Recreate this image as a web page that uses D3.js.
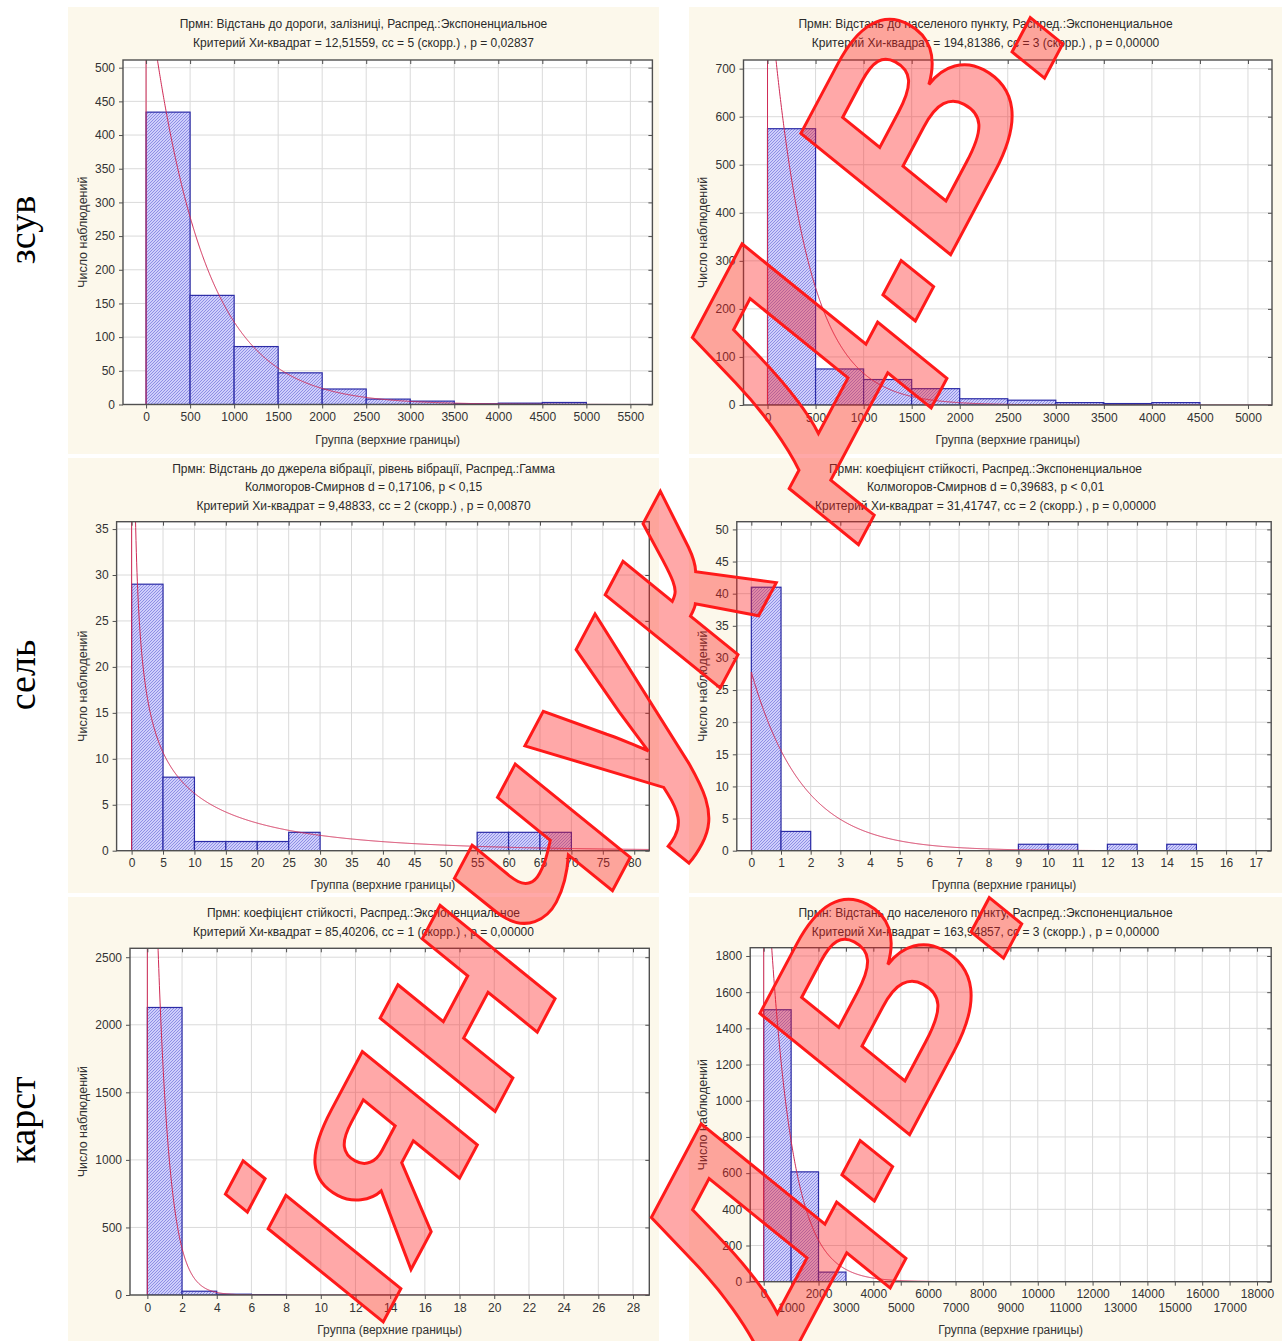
<!DOCTYPE html>
<html>
<head>
<meta charset="utf-8">
<script src="https://cdn.jsdelivr.net/npm/d3@7"></script>
<style>
  body { margin: 0; background: #fff; }
  text { font-family: "Liberation Sans", Arial, sans-serif; }
</style>
</head>
<body>
<svg id="mainsvg" width="1282" height="1341"></svg>
<script>
// ---------- data ----------
// зсув: відстань до дороги
const zsuvRoadEdges = [0, 500, 1000, 1500, 2000, 2500, 3000, 3500, 4000, 4500, 5000]
const zsuvRoadCounts = [434, 162, 86, 47, 23, 8, 5, 1, 2, 3]
const zsuvRoadFit = [632, 0.00164]          // amplitude, rate
const zsuvRoadXTicks = [0, 500, 1000, 1500, 2000, 2500, 3000, 3500, 4000, 4500, 5000, 5500]
const zsuvRoadYTicks = [0, 50, 100, 150, 200, 250, 300, 350, 400, 450, 500]
const zsuvRoadTitle = ['Прмн: Відстань до дороги, залізниці, Распред.:Экспоненциальное',
  'Критерий Хи-квадрат = 12,51559, сс = 5 (скорр.) , p = 0,02837']

// зсув: відстань до населеного пункту
const zsuvTownEdges = [0, 500, 1000, 1500, 2000, 2500, 3000, 3500, 4000, 4500]
const zsuvTownCounts = [575, 75, 53, 34, 13, 10, 5, 3, 5]
const zsuvTownFit = [905, 0.00262]
const zsuvTownXTicks = [0, 500, 1000, 1500, 2000, 2500, 3000, 3500, 4000, 4500, 5000]
const zsuvTownYTicks = [0, 100, 200, 300, 400, 500, 600, 700]
const zsuvTownTitle = ['Прмн: Відстань до населеного пункту, Распред.:Экспоненциальное',
  'Критерий Хи-квадрат = 194,81386, сс = 3 (скорр.) , p = 0,00000']

// сель: відстань до джерела вібрації
const selVibEdges = [0, 5, 10, 15, 20, 25, 30, 35, 40, 45, 50, 55, 60, 65, 70]
const selVibCounts = [29, 8, 1, 1, 1, 2, 0, 0, 0, 0, 0, 2, 2, 2]
const selVibFit = [29, 0.5, 26]             // amplitude, shape, scale
const selVibXTicks = [0, 5, 10, 15, 20, 25, 30, 35, 40, 45, 50, 55, 60, 65, 70, 75, 80]
const selVibYTicks = [0, 5, 10, 15, 20, 25, 30, 35]
const selVibTitle = ['Прмн: Відстань до джерела вібрації, рівень вібрації, Распред.:Гамма',
  'Колмогоров-Смирнов d = 0,17106, p < 0,15',
  'Критерий Хи-квадрат = 9,48833, сс = 2 (скорр.) , p = 0,00870']

// сель: коефіцієнт стійкості
const selCoefEdges = [0, 1, 2, 3, 4, 5, 6, 7, 8, 9, 10, 11, 12, 13, 14, 15]
const selCoefCounts = [41, 3, 0, 0, 0, 0, 0, 0, 0, 1, 1, 0, 1, 0, 1]
const selCoefFit = [27.8, 0.58]
const selCoefXTicks = [0, 1, 2, 3, 4, 5, 6, 7, 8, 9, 10, 11, 12, 13, 14, 15, 16, 17]
const selCoefYTicks = [0, 5, 10, 15, 20, 25, 30, 35, 40, 45, 50]
const selCoefTitle = ['Прмн: коефіцієнт стійкості, Распред.:Экспоненциальное',
  'Колмогоров-Смирнов d = 0,39683, p < 0,01',
  'Критерий Хи-квадрат = 31,41747, сс = 2 (скорр.) , p = 0,00000']

// карст: коефіцієнт стійкості
const karstCoefEdges = [0, 2, 4, 6, 8]
const karstCoefCounts = [2128, 28, 6, 3]
const karstCoefFit = [6280, 1.45]
const karstCoefXTicks = [0, 2, 4, 6, 8, 10, 12, 14, 16, 18, 20, 22, 24, 26, 28]
const karstCoefYTicks = [0, 500, 1000, 1500, 2000, 2500]
const karstCoefTitle = ['Прмн: коефіцієнт стійкості, Распред.:Экспоненциальное',
  'Критерий Хи-квадрат = 85,40206, сс = 1 (скорр.) , p = 0,00000']

// карст: відстань до населеного пункту
const karstTownEdges = [0, 1000, 2000, 3000]
const karstTownCounts = [1503, 607, 53]
const karstTownFit = [2635, 0.00122]
const karstTownXTicks = [0, 1000, 2000, 3000, 4000, 5000, 6000, 7000, 8000, 9000, 10000,
  11000, 12000, 13000, 14000, 15000, 16000, 17000, 18000]
const karstTownYTicks = [0, 200, 400, 600, 800, 1000, 1200, 1400, 1600, 1800]
const karstTownTitle = ['Прмн: Відстань до населеного пункту, Распред.:Экспоненциальное',
  'Критерий Хи-квадрат = 163,94857, сс = 3 (скорр.) , p = 0,00000']

const rowLabels = ['зсув', 'сель', 'карст']
const yAxisLabel = 'Число наблюдений'
const xAxisLabel = 'Группа (верхние границы)'
const watermark = 'іянчук Д.В.'

// ---------- layout ----------
const panels = [
  {bg: [68, 7, 591, 447], frame: [123, 60, 652.4, 404.5], xDomain: [-262, 5750], yDomain: [0, 511.4],
    edges: zsuvRoadEdges, counts: zsuvRoadCounts, fit: {type: 'exp', p: zsuvRoadFit},
    xTicks: zsuvRoadXTicks, yTicks: zsuvRoadYTicks, title: zsuvRoadTitle, titleY: [24, 43], xLabelY: 440, yLabelX: 83},
  {bg: [689, 7, 593, 447], frame: [743.5, 60, 1272, 405], xDomain: [-250, 5250], yDomain: [0, 718],
    edges: zsuvTownEdges, counts: zsuvTownCounts, fit: {type: 'exp', p: zsuvTownFit},
    xTicks: zsuvTownXTicks, yTicks: zsuvTownYTicks, title: zsuvTownTitle, titleY: [24, 43], xLabelY: 440, yLabelX: 703},
  {bg: [68, 458, 591, 435], frame: [116.6, 521.7, 649.3, 850.7], xDomain: [-2.39, 82.4], yDomain: [0, 35.8],
    edges: selVibEdges, counts: selVibCounts, fit: {type: 'gamma', p: selVibFit},
    xTicks: selVibXTicks, yTicks: selVibYTicks, title: selVibTitle, titleY: [469, 487.3, 505.7], xLabelY: 885, yLabelX: 83},
  {bg: [689, 458, 593, 435], frame: [736.8, 521.7, 1271.2, 850.7], xDomain: [-0.49, 17.52], yDomain: [0, 51.2],
    edges: selCoefEdges, counts: selCoefCounts, fit: {type: 'exp', p: selCoefFit},
    xTicks: selCoefXTicks, yTicks: selCoefYTicks, title: selCoefTitle, titleY: [469, 487.3, 505.7], xLabelY: 885, yLabelX: 703},
  {bg: [68, 897, 591, 444], frame: [130, 948.3, 649.3, 1295], xDomain: [-1.0, 28.94], yDomain: [0, 2566],
    edges: karstCoefEdges, counts: karstCoefCounts, fit: {type: 'exp', p: karstCoefFit},
    xTicks: karstCoefXTicks, yTicks: karstCoefYTicks, title: karstCoefTitle, titleY: [913.3, 932.3], xLabelY: 1330, yLabelX: 83},
  {bg: [689, 897, 593, 444], frame: [750.2, 947.7, 1271.2, 1281.7], xDomain: [-493, 18517], yDomain: [0, 1845.8],
    edges: karstTownEdges, counts: karstTownCounts, fit: {type: 'exp', p: karstTownFit},
    xTicks: karstTownXTicks, yTicks: karstTownYTicks, title: karstTownTitle, titleY: [913.3, 932.3], xLabelY: 1330, yLabelX: 703,
    stagger: true}
]
const rowLabelY = [230, 675, 1120]
// two diagonal copies of the watermark (origin of each line)
const watermarkOrigins = [[381, 1326], [340, 2206]]

const svg = d3.select('#mainsvg')
const defs = svg.append('defs')

// hatch for the bars
const pat = defs.append('pattern').attr('id', 'hatch')
  .attr('patternUnits', 'userSpaceOnUse').attr('width', 3).attr('height', 3)
pat.append('rect').attr('width', 3).attr('height', 3).attr('fill', '#cecefb')
pat.append('path').attr('d', 'M-1,1 L1,-1 M0,3 L3,0 M2,4 L4,2')
  .attr('stroke', '#7272da').attr('stroke-width', 0.7)

function fitValue(fit, x) {
  if (fit.type === 'exp') return x < 0 ? 0 : fit.p[0] * Math.exp(-fit.p[1] * x)
  // gamma
  return x <= 0 ? 0 : fit.p[0] * Math.pow(x, fit.p[1] - 1) * Math.exp(-x / fit.p[2])
}

panels.forEach((p, i) => {
  const [fx0, fy0, fx1, fy1] = p.frame
  const g = svg.append('g').attr('id', `panel${i}`)

  g.append('rect')
    .attr('x', p.bg[0]).attr('y', p.bg[1]).attr('width', p.bg[2]).attr('height', p.bg[3])
    .attr('fill', '#fcf8eb')

  const x = d3.scaleLinear().domain(p.xDomain).range([fx0, fx1])
  const y = d3.scaleLinear().domain(p.yDomain).range([fy1, fy0])

  g.append('rect')
    .attr('x', fx0).attr('y', fy0).attr('width', fx1 - fx0).attr('height', fy1 - fy0)
    .attr('fill', '#fff')

  // grid
  g.append('g').selectAll('line').data(p.xTicks).join('line')
    .attr('x1', d => x(d)).attr('x2', d => x(d)).attr('y1', fy0).attr('y2', fy1)
    .attr('stroke', '#dadada').attr('stroke-width', 1)
  g.append('g').selectAll('line').data(p.yTicks).join('line')
    .attr('x1', fx0).attr('x2', fx1).attr('y1', d => y(d)).attr('y2', d => y(d))
    .attr('stroke', '#dadada').attr('stroke-width', 1)

  const clipId = `clip${i}`
  defs.append('clipPath').attr('id', clipId).append('rect')
    .attr('x', fx0).attr('y', fy0).attr('width', fx1 - fx0).attr('height', fy1 - fy0)

  // bars
  const bins = p.counts.map((c, k) => ({x0: p.edges[k], x1: p.edges[k + 1], c}))
  g.append('g').attr('clip-path', `url(#${clipId})`)
    .selectAll('rect').data(bins.filter(b => b.c > 0)).join('rect')
    .attr('x', d => x(d.x0)).attr('width', d => x(d.x1) - x(d.x0))
    .attr('y', d => y(d.c)).attr('height', d => y(0) - y(d.c))
    .attr('fill', 'url(#hatch)')
    .attr('stroke', '#2b2ba6').attr('stroke-width', 1.2)

  // fitted curve
  const step = (p.xDomain[1] - p.xDomain[0]) / 800
  const pts = [[0, 0]]
  if (p.fit.type === 'exp') pts.push([0, fitValue(p.fit, 0)])
  d3.range(step / 10, p.xDomain[1], step / 2).forEach(v => pts.push([v, fitValue(p.fit, v)]))
  g.append('path').attr('clip-path', `url(#${clipId})`)
    .datum(pts)
    .attr('d', d3.line().x(d => x(d[0])).y(d => y(Math.min(d[1], p.yDomain[1] * 3))))
    .attr('fill', 'none').attr('stroke', '#cf2a55').attr('stroke-width', 1)

  // frame
  g.append('rect')
    .attr('x', fx0).attr('y', fy0).attr('width', fx1 - fx0).attr('height', fy1 - fy0)
    .attr('fill', 'none').attr('stroke', '#505050').attr('stroke-width', 1.4)

  // axes
  const styleAxis = sel => {
    sel.select('.domain').remove()
    sel.selectAll('line').attr('stroke', '#505050')
    sel.selectAll('text').attr('fill', '#333').attr('font-size', 12)
      .attr('font-family', '"Liberation Sans", Arial, sans-serif')
  }
  const xa = g.append('g').attr('transform', `translate(0,${fy1})`)
    .call(d3.axisBottom(x).tickValues(p.xTicks).tickSize(4).tickPadding(4).tickFormat(d3.format('d')))
    .call(styleAxis)
  if (p.stagger) {
    xa.selectAll('.tick text').filter((d, k) => k % 2 === 1).attr('y', 22)
  }
  g.append('g').attr('transform', `translate(${fx0},0)`)
    .call(d3.axisLeft(y).tickValues(p.yTicks).tickSize(4).tickPadding(4).tickFormat(d3.format('d')))
    .call(styleAxis)
  g.append('g').attr('transform', `translate(0,${fy0})`)
    .call(d3.axisTop(x).tickValues(p.xTicks).tickSize(-4).tickFormat(''))
    .call(styleAxis)
  g.append('g').attr('transform', `translate(${fx1},0)`)
    .call(d3.axisRight(y).tickValues(p.yTicks).tickSize(-4).tickFormat(''))
    .call(styleAxis)

  // titles
  const cx = p.bg[0] + p.bg[2] / 2
  p.title.forEach((t, k) => {
    g.append('text').attr('x', cx).attr('y', p.titleY[k])
      .attr('text-anchor', 'middle').attr('dominant-baseline', 'central')
      .attr('font-size', 12).attr('fill', '#2a2a2a').text(t)
  })
  g.append('text').attr('x', (fx0 + fx1) / 2).attr('y', p.xLabelY)
    .attr('text-anchor', 'middle').attr('dominant-baseline', 'central')
    .attr('font-size', 12).attr('fill', '#333').text(xAxisLabel)
  g.append('text')
    .attr('transform', `translate(${p.yLabelX},${(fy0 + fy1) / 2}) rotate(-90)`)
    .attr('text-anchor', 'middle').attr('dominant-baseline', 'central')
    .attr('font-size', 12.5).attr('fill', '#333').text(yAxisLabel)
})

// row labels
svg.selectAll('.rowLabel').data(rowLabels).join('text')
  .attr('class', 'rowLabel')
  .attr('transform', (d, i) => `translate(22,${rowLabelY[i]}) rotate(-90)`)
  .attr('text-anchor', 'middle').attr('dominant-baseline', 'central')
  .style('font-family', '"Liberation Serif", "Times New Roman", serif')
  .attr('font-size', 38).attr('fill', '#000').text(d => d)

// watermark
svg.append('g').attr('class', 'watermark')
  .selectAll('text').data(watermarkOrigins).join('text')
  .attr('transform', d => `translate(${d[0]},${d[1]}) rotate(-62)`)
  .style('font-family', '"Liberation Sans", Arial, sans-serif')
  .attr('font-weight', 'bold').attr('font-style', 'italic')
  .attr('font-size', 275)
  .attr('fill', 'rgba(255,25,25,0.38)').attr('stroke', '#ff1a1a').attr('stroke-width', 3)
  .text(watermark)
</script>
</body>
</html>
